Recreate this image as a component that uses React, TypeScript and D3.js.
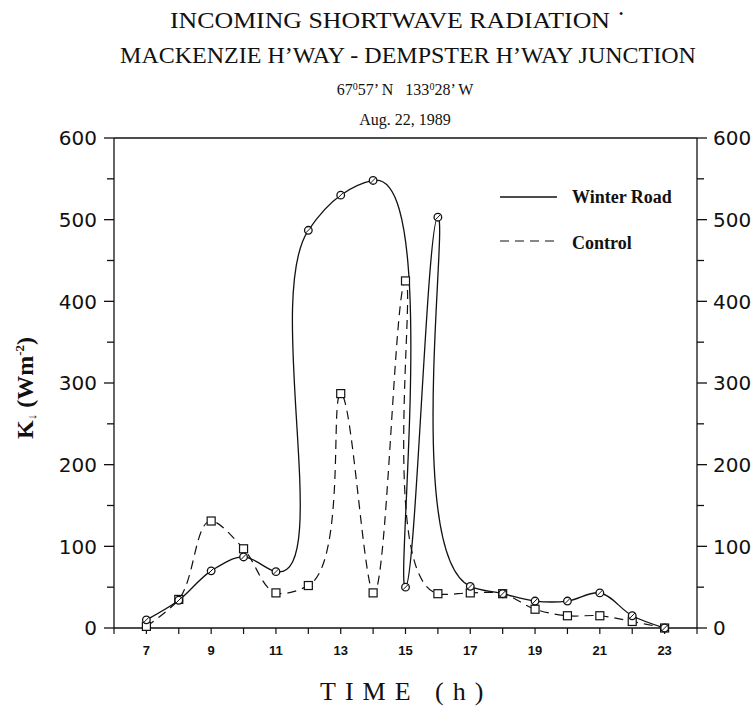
import React from 'react';
import * as d3 from 'd3';

// Data (Aug. 22, 1989)
const hours = [7, 8, 9, 10, 11, 12, 13, 14, 15, 16, 17, 18, 19, 20, 21, 22, 23];
const winterRoad = [10, 34, 70, 87, 69, 487, 530, 548, 50, 503, 51, 42, 33, 33, 43, 15, 0];
const control = [2, 35, 131, 97, 43, 52, 287, 43, 425, 42, 43, 42, 23, 15, 15, 8, 0];
const xTickLabels = [7, 9, 11, 13, 15, 17, 19, 21, 23];
const xMinorTicks = [6, 7, 8, 9, 10, 11, 12, 13, 14, 15, 16, 17, 18, 19, 20, 21, 22, 23, 24];
const yMajorTicks = [0, 100, 200, 300, 400, 500, 600];
const yMinorTicks = [50, 150, 250, 350, 450, 550];

const titleLines = [
  'INCOMING SHORTWAVE RADIATION',
  "MACKENZIE H\u2019WAY - DEMPSTER H\u2019WAY JUNCTION",
];

export default function App() {
  const W = 756;
  const H = 707;
  const x = d3.scaleLinear().domain([6, 24]).range([114, 697]);
  const y = d3.scaleLinear().domain([0, 600]).range([628, 138]);
  const curve = d3.curveCatmullRom.alpha(0.8);
  const lineGen = d3
    .line<number>()
    .x((_, i) => x(hours[i]))
    .y((d) => y(d))
    .curve(curve);

  const [x0, x1] = x.range();
  const [yb, yt] = y.range();
  const serif = "'Liberation Serif', 'Times New Roman', serif";
  const sans = "'DejaVu Sans', sans-serif";
  const bsans = "'Liberation Sans', Arial, sans-serif";

  return (
    <svg
      width={W}
      height={H}
      viewBox={`0 0 ${W} ${H}`}
      style={{ position: 'absolute', left: 0, top: 0, display: 'block', background: '#fff' }}
    >
      <rect x={0} y={0} width={W} height={H} fill="#fff" />
      {/* Titles */}
      <text
        x={170}
        y={28}
        fontFamily={serif}
        fontSize={24}
        fill="#111"
        textLength={440}
        lengthAdjust="spacingAndGlyphs"
      >
        {titleLines[0]}
      </text>
      <text x={619} y={18} fontFamily={serif} fontSize={12} fill="#111">{'\u2022'}</text>
      <text x={408} y={63} textAnchor="middle" fontFamily={serif} fontSize={24} fill="#111">
        {titleLines[1]}
      </text>
      <text x={405} y={95} textAnchor="middle" fontFamily={serif} fontSize={16} fill="#111">
        67<tspan dy={-5} fontSize={10}>0</tspan>
        <tspan dy={5}>{"57\u2019 N\u00a0\u00a0 133"}</tspan>
        <tspan dy={-5} fontSize={10}>0</tspan>
        <tspan dy={5}>{"28\u2019 W"}</tspan>
      </text>
      <text x={405} y={125} textAnchor="middle" fontFamily={serif} fontSize={16} fill="#111">
        Aug. 22, 1989
      </text>

      {/* Frame */}
      <g stroke="#111" strokeWidth={1.3} fill="none">
        <line x1={x0} y1={yt} x2={x1} y2={yt} />
        <line x1={x0} y1={yt} x2={x0} y2={yb} />
        <line x1={x1} y1={yt} x2={x1} y2={yb} />
        <line x1={x0} y1={yb} x2={x1} y2={yb} strokeWidth={1.6} />
      </g>

      {/* Y ticks */}
      <g stroke="#111" strokeWidth={1.3}>
        {yMajorTicks.map((v) => (
          <g key={'ym' + v}>
            <line x1={x0 - 10} x2={x0} y1={y(v)} y2={y(v)} />
            <line x1={x1} x2={x1 + 10} y1={y(v)} y2={y(v)} />
          </g>
        ))}
        {yMinorTicks.map((v) => (
          <g key={'yn' + v}>
            <line x1={x0 - 7} x2={x0} y1={y(v)} y2={y(v)} />
            <line x1={x1} x2={x1 + 7} y1={y(v)} y2={y(v)} />
          </g>
        ))}
      </g>
      {yMajorTicks.map((v) => (
        <g key={'yl' + v} fontFamily={sans} fontSize={20} fill="#111">
          <text x={97} y={y(v)} dy="0.36em" textAnchor="end">{v}</text>
          <text x={713} y={y(v)} dy="0.36em" textAnchor="start">{v}</text>
        </g>
      ))}

      {/* X ticks */}
      <g stroke="#111" strokeWidth={1.2}>
        {xMinorTicks.map((h) => (
          <line key={'xt' + h} x1={x(h)} x2={x(h)} y1={yb} y2={yb + 6} />
        ))}
      </g>
      {xTickLabels.map((h) => (
        <text
          key={'xl' + h}
          x={x(h)}
          y={655}
          textAnchor="middle"
          fontFamily={bsans}
          fontWeight="bold"
          fontSize={13}
          fill="#111"
        >
          {h}
        </text>
      ))}

      {/* Axis titles */}
      <text
        x={320}
        y={700}
        fontFamily={serif}
        fontSize={26}
        letterSpacing={9}
        fill="#111"
      >
        TIME (h)
      </text>
      <text
        transform={`translate(33, 388) rotate(-90)`}
        textAnchor="middle"
        fontFamily={serif}
        fontWeight="bold"
        fontSize={24}
        fill="#111"
      >
        K<tspan fontSize={13} dy={3}>{'\u2193'}</tspan>
        <tspan dy={-3}>{' (Wm'}</tspan>
        <tspan fontSize={13} dy={-9}>-2</tspan>
        <tspan dy={9}>)</tspan>
      </text>

      {/* Series lines */}
      <path d={lineGen(control) || ''} fill="none" stroke="#111" strokeWidth={1.2} strokeDasharray="9,6" />
      <path d={lineGen(winterRoad) || ''} fill="none" stroke="#111" strokeWidth={1.3} />

      {/* Markers */}
      {control.map((v, i) => (
        <rect
          key={'cm' + i}
          x={x(hours[i]) - 4}
          y={y(v) - 4}
          width={8}
          height={8}
          fill="#fff"
          stroke="#111"
          strokeWidth={1.2}
        />
      ))}
      {winterRoad.map((v, i) => (
        <g key={'wm' + i} transform={`translate(${x(hours[i])},${y(v)})`}>
          <circle r={3.8} fill="#fff" stroke="#111" strokeWidth={1.3} />
          <line x1={-2.6} y1={2.6} x2={2.6} y2={-2.6} stroke="#111" strokeWidth={1} />
        </g>
      ))}

      {/* Legend */}
      <line x1={500} x2={557} y1={197} y2={197} stroke="#111" strokeWidth={1.3} />
      <text x={572} y={203} fontFamily={serif} fontWeight="bold" fontSize={18} fill="#111">
        Winter Road
      </text>
      <line x1={500} x2={557} y1={241} y2={241} stroke="#111" strokeWidth={1.2} strokeDasharray="9,6" />
      <text x={572} y={249} fontFamily={serif} fontWeight="bold" fontSize={18} fill="#111">
        Control
      </text>
    </svg>
  );
}
